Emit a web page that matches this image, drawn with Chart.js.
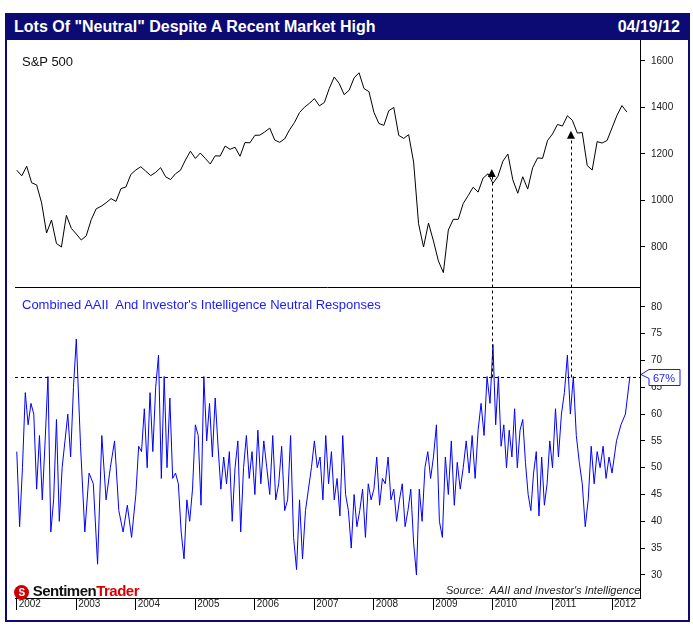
<!DOCTYPE html>
<html>
<head>
<meta charset="utf-8">
<script src="https://cdn.jsdelivr.net/npm/chart.js@4.4.1/dist/chart.umd.min.js"></script>
<style>
  body { margin: 0; background: #fff; font-family: "Liberation Sans", Arial, sans-serif; }
  #frame { position: absolute; left: 5px; top: 13px; width: 681px; height: 605px; border: 2px solid #0b0b73; }
  #titlebar { position: absolute; left: 5px; top: 13px; width: 685px; height: 27px; background: #0b0b73; color: #fff;
              font-weight: bold; font-size: 16px; line-height: 27px; }
  #titlebar .l { position: absolute; left: 9px; }
  #titlebar .r { position: absolute; right: 10px; }
  #wrap { position: absolute; left: 0; top: 0; width: 693px; height: 631px; }
  .txt { position: absolute; white-space: nowrap; }
</style>
</head>
<body>
<div id="frame"></div>
<div id="wrap"><canvas id="c" width="693" height="631"></canvas></div>
<div id="titlebar"><span class="l">Lots Of "Neutral" Despite A Recent Market High</span><span class="r">04/19/12</span></div>
<div class="txt" style="left:22px;top:54px;font-size:13px;color:#111">S&amp;P 500</div>
<div class="txt" style="left:22px;top:297px;font-size:13px;color:#1a1aff">Combined AAII&nbsp; And Investor's Intelligence Neutral Responses</div>
<div class="txt" style="left:446px;top:584px;font-size:11px;font-style:italic;color:#222">Source:&nbsp; AAII and Investor's Intelligence</div>
<div class="txt" style="left:14px;top:582px;font-size:15px;font-weight:bold;color:#111;letter-spacing:-0.5px">
  <span style="display:inline-block;width:15px;height:15px;border-radius:50%;background:#c00;color:#fff;font-size:10px;text-align:center;line-height:15px;vertical-align:middle">S</span>
  Sentimen<span style="color:#d00">Trader</span></div>
<script>
// S&P 500 monthly, Jan 2002 .. Apr 2012
const spx = [
  1130,1106,1147,1076,1067,990,860,916,815,800,936,880,
  856,830,848,917,964,975,990,1008,996,1051,1058,1112,
  1131,1145,1126,1107,1121,1141,1102,1090,1115,1130,1174,1212,
  1181,1204,1181,1157,1192,1191,1234,1220,1229,1190,1249,1248,
  1280,1281,1295,1311,1260,1250,1265,1304,1336,1378,1401,1418,
  1438,1407,1421,1482,1531,1503,1455,1474,1527,1549,1481,1468,
  1379,1331,1323,1386,1400,1280,1267,1283,1165,900,800,903,
  826,740,690,873,919,919,987,1021,1057,1036,1096,1115,
  1074,1104,1169,1200,1089,1031,1102,1049,1141,1183,1181,1258,
  1286,1327,1320,1364,1345,1290,1292,1150,1131,1253,1247,1258,
  1312,1366,1408,1380
];
// Neutral responses (%), per year, evenly spaced within each year
const n2002 = [53,39,50,64,58,62,60,46,56,44,55,67,38,44,59,40,50,55,60,52,65];
const n2003 = [74,54,38,49,47,32,56,44,50,55,42,38,43,37];
const n2004 = [45,54,53,61,50,64,53,65,71,48,67,50,63,48,49,47,38,33,44,40,46];
const n2005 = [58,56,43,67,55,62,52,63,54,46,52,47,53,40,50,55,38,50,56,48,53];
const n2006 = [45,57,47,55,50,45,56,44,47,54,42,44,56,37,31,44,33,42,46,50];
const n2007 = [55,50,52,44,56,47,53,44,48,41,56,45,42,35,45,39,42,46,37,47,44];
const n2008 = [46,52,43,48,47,52,44,46,40,44,47,39,42,46,36,30,46,40,50,53,48];
const n2009 = [52,58,40,37,52,45,55,43,51,46,50,55,49,56,48,57,62,56,67,62];
const n2010 = [73,58,67,54,58,50,57,52,61,50,57,59,51,45,42,49,53,41,52,43,47,55];
const n2011 = [50,61,52,60,64,71,60,67,56,51,47,39,44,54,47,53,50,54,48,52];
const n2012 = [49,55,58,60,67];
const neutralYears = [2002,2003,2004,2005,2006,2007,2008,2009,2010,2011,2012];
const neutralSets = [n2002,n2003,n2004,n2005,n2006,n2007,n2008,n2009,n2010,n2011,n2012];
const yearTicks = [2002,2003,2004,2005,2006,2007,2008,2009,2010,2011,2012];
const spTicks = [800,1000,1200,1400,1600];
const neutralTicks = [30,35,40,45,50,55,60,65,70,75,80];
const threshold = 67;
// signal arrows: [date, S&P level at arrow tip]
const signals = [[2009.98, 1135], [2011.31, 1300]];

const spPoints = spx.map((v, i) => ({ x: 2002 + i / 12, y: v }));
const neutralPoints = [];
neutralSets.forEach((arr, k) => {
  const span = neutralYears[k] === 2012 ? 0.3 : 1;
  arr.forEach((v, i) => {
    const frac = neutralYears[k] === 2012 ? i / (arr.length - 1) : i / arr.length;
    neutralPoints.push({ x: neutralYears[k] + frac * span, y: v });
  });
});

const overlay = {
  id: 'overlay',
  afterDatasetsDraw(chart) {
    const { ctx, chartArea, scales } = chart;
    const yN = scales.yN, yS = scales.yS, x = scales.x;
    const sep = yS.bottom;
    ctx.save();
    ctx.strokeStyle = '#000';
    ctx.lineWidth = 1;
    ctx.beginPath();
    ctx.moveTo(chartArea.left, sep + 0.5); ctx.lineTo(chartArea.right, sep + 0.5);
    ctx.stroke();
    const ty = Math.round(yN.getPixelForValue(threshold)) + 0.5;
    ctx.setLineDash([3, 3]);
    ctx.beginPath();
    ctx.moveTo(chartArea.left, ty); ctx.lineTo(chartArea.right, ty);
    signals.forEach(([d, lvl]) => {
      const px = Math.round(x.getPixelForValue(d)) + 0.5;
      ctx.moveTo(px, ty); ctx.lineTo(px, yS.getPixelForValue(lvl) + 6);
    });
    ctx.stroke();
    ctx.setLineDash([]);
    ctx.fillStyle = '#000';
    signals.forEach(([d, lvl]) => {
      const px = x.getPixelForValue(d), py = yS.getPixelForValue(lvl);
      ctx.beginPath();
      ctx.moveTo(px, py); ctx.lineTo(px - 4, py + 8); ctx.lineTo(px + 4, py + 8); ctx.closePath();
      ctx.fill();
    });
    // 67% tag
    const bx = chartArea.right + 9, by = ty - 8;
    ctx.fillStyle = '#fff'; ctx.strokeStyle = '#1a1aff';
    ctx.beginPath();
    ctx.moveTo(chartArea.right + 1, ty - 3);
    ctx.lineTo(bx, by); ctx.lineTo(bx + 31, by); ctx.lineTo(bx + 31, by + 16);
    ctx.lineTo(bx, by + 16); ctx.lineTo(bx, ty + 1); ctx.closePath();
    ctx.fill(); ctx.stroke();
    ctx.fillStyle = '#1a1aff'; ctx.font = '11px "Liberation Sans", Arial';
    ctx.textBaseline = 'middle';
    ctx.fillText('67%', bx + 4, ty + 1);
    ctx.restore();
  }
};

const tickFont = { family: '"Liberation Sans", Arial', size: 10 };
new Chart(document.getElementById('c'), {
  type: 'line',
  data: {
    datasets: [
      { data: spPoints, yAxisID: 'yS', borderColor: '#000', borderWidth: 1, pointRadius: 0, tension: 0 },
      { data: neutralPoints, yAxisID: 'yN', borderColor: '#0000ff', borderWidth: 1, pointRadius: 0, tension: 0 }
    ]
  },
  options: {
    responsive: false, animation: false,
    layout: { padding: { left: 15, top: 40, right: 13, bottom: 19 } },
    plugins: { legend: { display: false }, tooltip: { enabled: false } },
    scales: {
      x: {
        type: 'linear', min: 2001.97, max: 2012.47,
        afterBuildTicks: s => { s.ticks = yearTicks.map(v => ({ value: v })); },
        afterFit: s => { s.height = 14; },
        grid: { drawOnChartArea: false, color: '#000', tickLength: 12 },
        border: { color: '#000' },
        ticks: { color: '#222', font: tickFont, maxRotation: 0, labelOffset: 13, padding: -12, callback: v => String(v) }
      },
      yS: {
        position: 'right', stack: 'main', stackWeight: 247, offset: false,
        min: 628, max: 1690,
        afterBuildTicks: s => { s.ticks = spTicks.map(v => ({ value: v })); },
        afterFit: s => { s.width = 40; },
        grid: { drawOnChartArea: false, color: '#000', tickLength: 5 },
        border: { color: '#000' },
        ticks: { color: '#222', font: tickFont, padding: 6, callback: v => String(v) }
      },
      yN: {
        position: 'right', stack: 'main', stackWeight: 311, offset: false,
        min: 25.7, max: 83.7,
        afterBuildTicks: s => { s.ticks = neutralTicks.map(v => ({ value: v })); },
        afterFit: s => { s.width = 40; },
        grid: { drawOnChartArea: false, color: '#000', tickLength: 5 },
        border: { color: '#000' },
        ticks: { color: '#222', font: tickFont, padding: 6, callback: v => String(v) }
      }
    }
  },
  plugins: [overlay]
});
</script>
</body>
</html>
